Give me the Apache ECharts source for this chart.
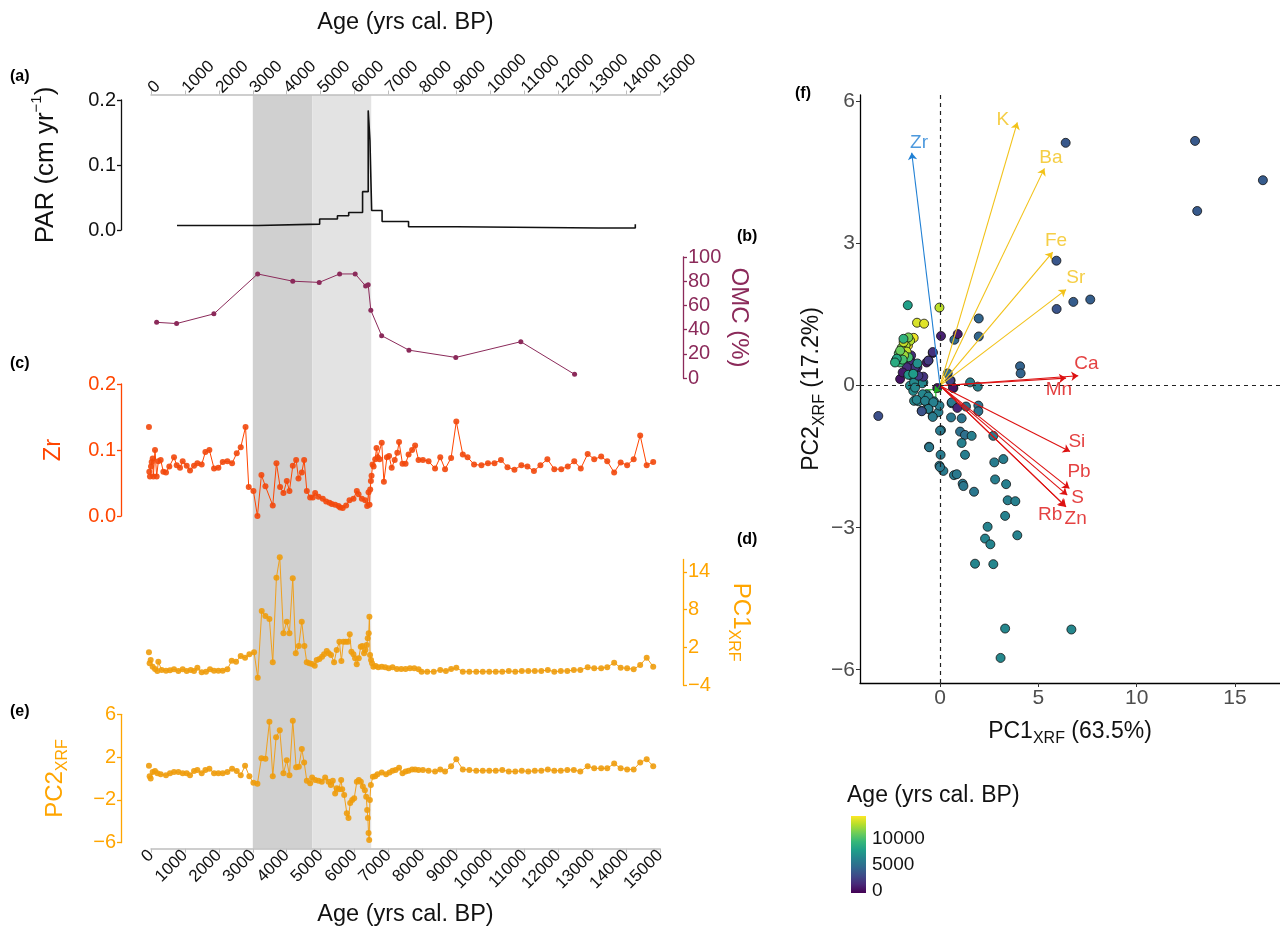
<!DOCTYPE html>
<html>
<head>
<meta charset="utf-8">
<title>Core record and XRF PCA</title>
<script src="https://cdn.jsdelivr.net/npm/echarts@6/dist/echarts.min.js"></script>
<style>
  html, body { margin: 0; padding: 0; background: #fff; }
  #chart { width: 1280px; height: 938px; }
</style>
</head>
<body>
<div id="chart"></div>
<script>
const FONT = '"Liberation Sans", Arial, Helvetica, sans-serif';
const ORANGE = "#FFA500";
const ORANGERED = "#FF4500";
const MAROON = "#8B2A5A";

// shaded periods (yrs cal. BP)
const shadeBands = [[3000, 4750], [4750, 6490]];
const shadeColors = ["#D0D0D0", "#E3E3E3"];

// (a) PAR, cm/yr, step line [age, value]
const parData = [[767, 0.007], [3156, 0.009], [4970, 0.017], [5494, 0.022], [5826, 0.027], [6235, 0.059],
  [6401, 0.184], [6452, 0.138], [6503, 0.030], [6810, 0.013], [7590, 0.005], [9020, 0.003], [13186, 0.003], [14272, 0.009]];

// (b) OMC %
const omcData = [[166, 46], [754, 45], [1853, 53], [3143, 86], [4178, 80], [4957, 79], [5558, 86], [6018, 86],
  [6325, 76], [6401, 77], [6478, 56], [6797, 35], [7602, 23], [8982, 17], [10899, 30], [12483, 3]];

// (c) Zr
const zrData = [[-60, 0.135], [-50, 0.067], [-30, 0.06], [0, 0.075], [20, 0.082], [50, 0.087], [70, 0.06], [118, 0.1],
  [167, 0.06], [216, 0.083], [285, 0.085], [364, 0.067], [442, 0.066], [540, 0.075], [678, 0.089], [757, 0.077],
  [855, 0.073], [934, 0.083], [1052, 0.076], [1150, 0.069], [1268, 0.076], [1366, 0.08], [1494, 0.078], [1603, 0.097],
  [1720, 0.1], [1858, 0.072], [1986, 0.073], [2114, 0.082], [2251, 0.083], [2389, 0.08], [2527, 0.095], [2644, 0.104],
  [2786, 0.135], [2880, 0.044], [3018, 0.038], [3136, 0.0], [3254, 0.062], [3372, 0.045], [3588, 0.016], [3697, 0.08],
  [3805, 0.044], [3903, 0.035], [4002, 0.053], [4080, 0.038], [4179, 0.076], [4277, 0.085], [4346, 0.057], [4444, 0.066],
  [4513, 0.085], [4592, 0.038], [4690, 0.028], [4769, 0.028], [4837, 0.035], [4936, 0.029], [5063, 0.026], [5162, 0.022],
  [5260, 0.02], [5329, 0.018], [5427, 0.017], [5525, 0.015], [5574, 0.013], [5650, 0.012], [5750, 0.016], [5850, 0.024],
  [5968, 0.026], [6066, 0.038], [6116, 0.033], [6214, 0.026], [6312, 0.024], [6370, 0.015], [6411, 0.036], [6440, 0.017],
  [6460, 0.04], [6480, 0.053], [6500, 0.061], [6529, 0.078], [6560, 0.075], [6608, 0.086], [6646, 0.103], [6680, 0.089],
  [6735, 0.086], [6800, 0.111], [6863, 0.052], [6952, 0.089], [7016, 0.091], [7093, 0.073], [7182, 0.085], [7259, 0.096],
  [7310, 0.112], [7412, 0.079], [7502, 0.079], [7591, 0.093], [7694, 0.1], [7783, 0.107], [7885, 0.085], [8013, 0.085],
  [8179, 0.083], [8371, 0.072], [8524, 0.089], [8665, 0.071], [8844, 0.088], [8997, 0.143], [9189, 0.093], [9329, 0.089],
  [9521, 0.078], [9738, 0.077], [9930, 0.08], [10122, 0.08], [10313, 0.085], [10505, 0.074], [10710, 0.07], [10914, 0.077],
  [11093, 0.075], [11285, 0.068], [11476, 0.077], [11681, 0.086], [11885, 0.071], [12090, 0.071], [12282, 0.075],
  [12473, 0.083], [12665, 0.072], [12869, 0.094], [13061, 0.086], [13266, 0.09], [13445, 0.083], [13649, 0.066],
  [13841, 0.081], [14032, 0.077], [14224, 0.086], [14416, 0.122], [14608, 0.077], [14800, 0.082]];

// (d) PC1 XRF scores
const pc1Data = [[-60, 1.21], [-40, -0.54], [-10, -0.02], [49, -1.09], [118, -1.45], [187, -1.77], [216, -0.29],
  [314, -1.61], [442, -1.72], [560, -1.66], [678, -1.5], [806, -1.77], [934, -1.5], [1052, -1.77], [1170, -1.61],
  [1268, -1.77], [1366, -1.25], [1494, -1.98], [1621, -1.88], [1739, -1.5], [1857, -1.72], [1985, -1.72], [2113, -1.72],
  [2250, -1.5], [2378, -0.13], [2506, -0.29], [2644, 0.62], [2772, 0.35], [2899, 0.89], [3037, 1.21], [3146, -2.84],
  [3263, 7.78], [3371, 6.99], [3489, 6.51], [3588, -0.39], [3696, 13.09], [3795, 16.33], [3903, 4.23], [4001, 6.08],
  [4079, 4.23], [4178, 12.99], [4266, 1.05], [4354, 2.21], [4443, 6.08], [4521, 2.21], [4590, -0.39], [4668, -0.54],
  [4747, -0.66], [4825, -0.93], [4884, -0.02], [4963, 0.14], [5041, 0.51], [5100, 0.89], [5179, 1.41], [5238, 1.05],
  [5306, 0.78], [5395, -0.39], [5473, 1.57], [5552, 2.89], [5611, -0.18], [5670, 2.89], [5739, 2.89], [5808, 2.89],
  [5857, 4.07], [5906, 1.3], [5965, 0.89], [6014, 0.25], [6063, -0.7], [6122, 0.25], [6181, 2.1], [6230, 2.21],
  [6279, 1.05], [6318, 1.57], [6357, 2.37], [6387, 3.44], [6416, 4.23], [6436, 6.88], [6455, 0.78], [6485, -0.02],
  [6514, -0.54], [6554, -1.09], [6620, -0.97], [6697, -1.18], [6800, -1.09], [6901, -1.18], [7004, -1.34], [7118, -1.18],
  [7246, -1.45], [7374, -1.45], [7502, -1.45], [7630, -1.34], [7757, -1.34], [7885, -1.5], [7975, -1.88], [8141, -1.88],
  [8333, -1.88], [8524, -1.61], [8690, -1.77], [8844, -1.45], [8997, -1.25], [9189, -1.88], [9381, -1.88], [9585, -1.88],
  [9777, -1.88], [9968, -1.88], [10160, -1.88], [10352, -1.88], [10543, -1.77], [10735, -1.88], [10927, -1.77],
  [11119, -1.77], [11310, -1.77], [11502, -1.77], [11694, -1.61], [11885, -1.88], [12077, -1.77], [12269, -1.77],
  [12461, -1.61], [12652, -1.61], [12869, -1.18], [13061, -1.34], [13266, -1.34], [13445, -1.18], [13649, -0.45],
  [13841, -1.25], [14032, -1.34], [14224, -1.5], [14416, -0.82], [14608, 0.35], [14800, -1.09]];

// (e) PC2 XRF scores
const pc2Data = [[-60, 1.2], [-40, 0.2], [-10, 0.0], [49, 0.6], [118, 0.7], [187, 0.5], [285, 0.4], [442, 0.3],
  [560, 0.5], [678, 0.6], [806, 0.6], [934, 0.5], [1052, 0.5], [1150, 0.3], [1268, 0.7], [1366, 0.8], [1494, 0.5],
  [1603, 0.8], [1720, 0.9], [1858, 0.5], [1986, 0.5], [2114, 0.5], [2251, 0.6], [2389, 0.9], [2527, 0.7], [2644, 0.3],
  [2772, 1.2], [2899, 0.2], [3018, -0.4], [3136, -0.5], [3254, 1.9], [3372, 1.85], [3490, 5.3], [3588, 0.2], [3687, 3.85],
  [3795, 4.5], [3903, 0.5], [4001, 1.7], [4080, 0.3], [4179, 5.4], [4277, 1.05], [4356, 1.1], [4444, 2.75], [4513, 1.5],
  [4592, -0.2], [4690, -0.45], [4749, 0.1], [4838, -0.15], [4936, -0.2], [5034, -0.3], [5132, 0.1], [5230, -0.3],
  [5299, -0.6], [5358, -0.2], [5427, -1.4], [5476, -0.9], [5535, -1.0], [5604, -0.15], [5634, -1.0], [5693, -1.55],
  [5771, -3.25], [5820, -3.7], [5870, -2.3], [5929, -2.0], [5988, -1.85], [6066, -0.3], [6125, -0.15], [6184, -0.3],
  [6243, -0.75], [6302, -1.1], [6342, -1.7], [6371, -2.95], [6391, -3.7], [6411, -5.1], [6430, -5.75], [6450, -2.0],
  [6480, -0.6], [6539, 0.17], [6608, 0.2], [6676, 0.4], [6800, 0.55], [6927, 0.4], [7029, 0.55], [7118, 0.73],
  [7208, 0.8], [7310, 1.0], [7412, 0.5], [7502, 0.65], [7591, 0.73], [7694, 0.85], [7783, 0.85], [7885, 0.8], [8013, 0.8],
  [8179, 0.73], [8371, 0.65], [8524, 0.85], [8665, 0.65], [8844, 1.15], [8997, 1.8], [9189, 0.85], [9381, 0.8],
  [9585, 0.73], [9777, 0.73], [9968, 0.73], [10160, 0.73], [10352, 0.8], [10543, 0.65], [10735, 0.65], [10927, 0.73],
  [11119, 0.65], [11310, 0.73], [11502, 0.73], [11694, 0.85], [11885, 0.73], [12077, 0.73], [12269, 0.8], [12461, 0.8],
  [12652, 0.65], [12869, 1.15], [13061, 0.95], [13266, 0.95], [13445, 0.95], [13649, 1.4], [13841, 0.95], [14032, 0.85],
  [14224, 0.85], [14416, 1.5], [14608, 1.8], [14800, 1.15]];

// (f) biplot: sample scores [PC1, PC2, age]
const scorePoints = [
  [6.39, 5.13, 3600], [12.97, 5.17, 3650], [16.42, 4.34, 3800], [13.08, 3.69, 3700], [5.92, 2.64, 3500],
  [6.78, 1.77, 3900], [7.64, 1.82, 3950], [5.93, 1.62, 3400], [1.97, 1.42, 4300], [1.97, 1.04, 4400],
  [0.73, 0.97, 4500], [4.07, 0.41, 4200], [4.1, 0.26, 4250], [0.39, 0.26, 4600], [0.54, 0.11, 4500],
  [0.68, -0.05, 4650], [-3.14, -0.64, 3100], [-0.93, -0.54, 3300],
  [0.9, 1.09, 800], [0.05, 1.05, 900], [-0.37, 0.69, 600], [-0.59, 0.53, 700], [-0.68, 0.49, 500],
  [-1.15, 0.39, 1200], [-2.03, 0.14, 300], [-1.47, 0.64, 1500], [-1.47, 0.51, 1000], [-0.85, 0.19, 1800],
  [0.88, -0.47, 1100], [0.66, -0.04, 400], [-1.69, 0.62, 1300], [-1.52, 0.49, 1600], [-1.27, 0.39, 2000],
  [-1.69, 0.39, 1400], [-1.9, 0.28, 700], [-1.1, 0.21, 2200], [-0.14, -0.05, 200], [0.51, 0.11, 2500],
  [-0.03, 1.65, 12800], [-1.17, 1.33, 13400], [-0.81, 1.31, 13600], [-1.34, 1.01, 13900], [-1.63, 0.85, 14200],
  [-1.83, 0.76, 13200], [-1.52, 0.95, 12600], [-1.75, 0.85, 12500], [-1.95, 0.8, 11500], [-1.7, 0.72, 12900],
  [-2.1, 0.68, 10200], [-1.85, 0.92, 13000], [-1.6, 0.6, 9800],
  [-1.61, 1.02, 11200], [-2.03, 0.56, 10600], [-1.9, 0.66, 11800], [-1.83, 0.64, 12100], [-2.03, 0.74, 10900],
  [-1.64, 1.7, 7800], [-2.03, 0.49, 9500], [-1.9, 0.55, 9800],
  [-1.86, 0.99, 9000], [-2.25, 0.53, 7100], [-1.61, 0.23, 7300], [-1.36, 0.25, 7600], [-2.2, 0.57, 8200],
  [-2.29, 0.49, 8600], [-1.15, 0.47, 7000], [-1.44, 0.21, 6900],
  [1.53, 0.07, 6000], [1.92, -0.02, 6100], [-1.53, 0.0, 6700], [-1.36, -0.11, 6600], [-0.85, 0.07, 6500],
  [-1.32, -0.32, 6400], [-1.1, -0.33, 6300], [-0.68, -0.35, 6200], [-0.59, -0.49, 6150], [-0.37, -0.64, 6050],
  [-0.68, -0.19, 6250], [-0.31, -0.33, 5900], [-0.08, -0.56, 5800], [-0.03, -0.42, 5850], [0.05, -0.94, 5950],
  [-0.56, -1.29, 5700], [-0.03, -1.69, 5750], [0.17, -1.8, 5650], [0.71, -1.89, 5600], [0.85, -1.87, 5550],
  [1.15, -2.07, 5500], [1.19, -2.12, 5450], [1.73, -2.24, 5400], [0.56, -0.67, 5350], [0.59, -0.37, 5300],
  [1.1, -0.69, 5250], [1.32, -0.44, 5200], [1.95, -0.42, 5150], [1.95, -0.54, 5100], [1.02, -0.97, 5050],
  [1.27, -1.04, 5000], [1.61, -1.06, 5900], [1.1, -1.21, 6000], [1.27, -1.46, 5800], [2.71, -1.06, 5700],
  [2.76, -1.62, 5750], [3.22, -1.55, 5800], [2.8, -1.98, 5850], [3.36, -2.08, 5900], [3.44, -2.42, 5950],
  [3.83, -2.44, 6000], [3.31, -2.75, 6050], [3.93, -3.16, 6100], [2.42, -2.98, 6150], [2.29, -3.23, 6200],
  [2.56, -3.35, 6250], [1.78, -3.76, 6300], [2.71, -3.77, 6350], [3.31, -5.13, 6400], [6.68, -5.15, 6420],
  [3.08, -5.75, 6440], [0.6, -0.35, 5600], [0.03, -1.46, 5650], [-0.91, 0.05, 6450], [-1.32, 0.07, 6550],
  [-1.27, -0.04, 6480], [-0.88, -0.18, 6350], [-0.59, -0.23, 6300], [-1.19, -0.3, 6200], [-0.76, -0.32, 6100],
  [-0.34, -0.35, 6000], [-0.59, -0.49, 5900], [-0.93, -0.53, 5800], [-0.37, -0.66, 5700], [0.0, -0.95, 5600],
  [-0.55, -1.3, 5500], [0.0, -1.72, 5450], [-0.59, 0.53, 2100], [-0.37, 0.71, 1700]
];

// (f) biplot: variable loadings
const loadNames = ["Zr", "K", "Ba", "Fe", "Sr", "Ca", "Mn", "Si", "Pb", "S", "Rb", "Zn", "Ti"];
const loadPC1 = [-1.44, 3.93, 5.31, 5.73, 6.41, 7.03, 6.41, 6.61, 6.58, 6.47, 6.36, 6.41, -0.3];
const loadPC2 = [4.92, 5.56, 4.59, 2.82, 2.03, 0.21, 0.16, -1.39, -2.17, -2.31, -2.54, -2.56, -0.15];
const loadGroup = ["blue", "gold", "gold", "gold", "gold", "red", "red", "red", "red", "red", "red", "red", "green"];
const loadLabelPC1 = [-1.07, 3.2, 5.64, 5.9, 6.9, 7.45, 6.05, 6.96, 7.07, 7.0, 5.6, 6.9, -0.45];
const loadLabelPC2 = [5.13, 5.61, 4.81, 3.07, 2.27, 0.47, -0.08, -1.19, -1.82, -2.37, -2.73, -2.82, -0.22];

const ageRange = [-400, 14250];
const colorbarTicks = [0, 5000, 10000];

const groupColor = { blue: "#2080D4", gold: "#F2C218", red: "#DD1111", green: "#22B022" };
const viridis = ["#440154", "#482878", "#3E4A89", "#31688E", "#26828E", "#1F9E89", "#35B779", "#6DCD59", "#B4DE2C", "#FDE725"];

// draw order in the biplot: mid-Holocene teal first, old yellow-green last
const drawRank = (age) => (age >= 5000 && age < 7000 ? 0 : age >= 3000 && age < 5000 ? 1 : age < 3000 ? 2 : 3);
const scoreDrawn = scorePoints.slice().sort((a, b) => drawRank(a[2]) - drawRank(b[2]));

const chart = echarts.init(document.getElementById("chart"), null, { renderer: "canvas" });

const minus = (v) => String(v).replace("-", "\u2212");
const plain = (v) => String(v);

function leftY(grid, min, max, interval, color, name, gap, extra) {
  return Object.assign({
    gridIndex: grid, type: "value", position: "left", offset: 30, min, max, interval,
    axisLine: { show: true, onZero: false, lineStyle: { color, width: 1.3 } },
    axisTick: { show: true, length: 4, lineStyle: { color, width: 1.3 } },
    axisLabel: { color, fontSize: 20, fontFamily: FONT, margin: 5, formatter: minus },
    splitLine: { show: false },
    name, nameLocation: "middle", nameGap: gap, nameRotate: 90,
    nameTextStyle: { color, fontSize: 24, fontFamily: FONT },
  }, extra || {});
}
function rightY(grid, min, max, interval, color, name, gap, extra) {
  return Object.assign(leftY(grid, min, max, interval, color, name, gap), { position: "right", offset: 23, nameRotate: -90 }, extra || {});
}
function hiddenX(grid) {
  return { gridIndex: grid, type: "value", min: 0, max: 15000, show: false };
}

// rich text: a = normal, s = subscript, p = superscript
const subRich = (color, size) => ({
  a: { fontSize: size, color, fontFamily: FONT, lineHeight: size + 8 },
  s: { fontSize: Math.round(size * 0.68), color, fontFamily: FONT, lineHeight: 12, verticalAlign: "bottom" },
  p: { fontSize: 15, color, fontFamily: FONT, lineHeight: 10, verticalAlign: "top" },
});

const panelLabel = (text, x, y) => ({
  type: "text", left: x, top: y,
  style: { text, fontSize: 16, fontWeight: "bold", fill: "#000", fontFamily: FONT },
});

// note: ECharts negates axisLabel.rotate on a top axis, hence -45 there
const ageAxis = (grid, position, offset, gap, rotate) => ({
  gridIndex: grid, type: "value", position, offset, min: 0, max: 15000, interval: 1000,
  axisLine: { onZero: false, lineStyle: { color: "#BEBEBE", width: 1.5 } },
  axisTick: { length: 4, lineStyle: { color: "#BEBEBE" } },
  axisLabel: { rotate, color: "#111", fontSize: 17, fontFamily: FONT, margin: 4, formatter: plain },
  splitLine: { show: false },
  name: "Age (yrs cal. BP)", nameLocation: "middle", nameGap: gap,
  nameTextStyle: { fontSize: 23.5, color: "#111", fontFamily: FONT },
});

chart.setOption({
  animation: false,
  backgroundColor: "#fff",
  textStyle: { fontFamily: FONT },
  grid: [
    { left: 151, width: 509, top: 100, height: 130 },
    { left: 151, width: 509, top: 257, height: 121 },
    { left: 151, width: 509, top: 384, height: 132 },
    { left: 151, width: 509, top: 559.4, height: 125.6 },
    { left: 151, width: 509, top: 714.3, height: 128.4 },
    { left: 151, width: 509, top: 95, height: 753.5 },
    { left: 860, width: 420, top: 95, height: 588 },
    { left: 851, width: 15, top: 816, height: 77 },
  ],
  xAxis: [
    ageAxis(0, "top", 5.5, 60, -45),
    hiddenX(1), hiddenX(2), hiddenX(3),
    ageAxis(4, "bottom", 6, 54, 45),
    hiddenX(5),
    {
      gridIndex: 6, type: "value", min: -4.07, max: 17.29,
      axisLine: { onZero: false, lineStyle: { color: "#000", width: 1.3 } },
      axisTick: { show: true, customValues: [0, 5, 10, 15], length: 4, lineStyle: { color: "#333" } },
      axisLabel: { customValues: [0, 5, 10, 15], color: "#4D4D4D", fontSize: 21, fontFamily: FONT, margin: 5 },
      splitLine: { show: false },
      name: "{a|PC1}{s|XRF}{a| (63.5%)}", nameLocation: "middle", nameGap: 33,
      nameTextStyle: { rich: subRich("#111", 23) },
    },
    { gridIndex: 7, type: "value", min: 0, max: 1, show: false },
  ],
  yAxis: [
    leftY(0, 0, 0.2, 0.1, "#111", "{a|PAR (cm yr}{p|\u22121}{a|)}", 58, {
      axisLabel: { color: "#111", fontSize: 20, fontFamily: FONT, margin: 5, formatter: (v) => v.toFixed(1) },
      nameTextStyle: { rich: subRich("#111", 26) },
    }),
    rightY(1, 0, 100, 20, MAROON, "OMC (%)", 44),
    leftY(2, 0, 0.2, 0.1, ORANGERED, "Zr", 56, {
      axisLabel: { color: ORANGERED, fontSize: 20, fontFamily: FONT, margin: 5, formatter: (v) => v.toFixed(1) },
    }),
    rightY(3, -4, 16, 6, ORANGE, "{a|PC1}{s|XRF}", 42, {
      axisTick: { show: true, customValues: [-4, 2, 8, 14], length: 4, lineStyle: { color: ORANGE, width: 1.3 } },
      axisLabel: { customValues: [-4, 2, 8, 14], color: ORANGE, fontSize: 20, fontFamily: FONT, margin: 5, formatter: minus },
      nameTextStyle: { rich: subRich(ORANGE, 24) },
    }),
    leftY(4, -6, 6, 4, ORANGE, "{a|PC2}{s|XRF}", 50, {
      nameTextStyle: { rich: subRich(ORANGE, 24) },
    }),
    { gridIndex: 5, type: "value", min: 0, max: 1, show: false },
    {
      gridIndex: 6, type: "value", min: -6.28, max: 6.14,
      axisLine: { onZero: false, lineStyle: { color: "#000", width: 1.3 } },
      axisTick: { show: true, customValues: [-6, -3, 0, 3, 6], length: 4, lineStyle: { color: "#333" } },
      axisLabel: { customValues: [-6, -3, 0, 3, 6], color: "#4D4D4D", fontSize: 21, fontFamily: FONT, margin: 5, formatter: minus },
      splitLine: { show: false },
      name: "{a|PC2}{s|XRF}{a| (17.2%)}", nameLocation: "middle", nameGap: 30, nameRotate: 90,
      nameTextStyle: { rich: subRich("#111", 23) },
    },
    {
      gridIndex: 7, type: "value", min: ageRange[0], max: ageRange[1], position: "right",
      axisLine: { show: false, onZero: false },
      axisTick: { show: true, inside: true, customValues: colorbarTicks, length: 3, lineStyle: { color: "#fff" } },
      axisLabel: { customValues: colorbarTicks, color: "#111", fontSize: 19, fontFamily: FONT, margin: 6, formatter: plain },
      splitLine: { show: false },
    },
  ],
  visualMap: [{
    show: false, type: "continuous", seriesIndex: 8, dimension: 2,
    min: ageRange[0], max: ageRange[1], inRange: { color: viridis },
  }],
  series: [
    {
      type: "custom", xAxisIndex: 5, yAxisIndex: 5, z: 0, silent: true,
      data: shadeBands,
      renderItem: (params, api) => {
        const p0 = api.coord([api.value(0), 1]);
        const p1 = api.coord([api.value(1), 0]);
        return {
          type: "rect",
          shape: { x: p0[0], y: p0[1], width: p1[0] - p0[0], height: p1[1] - p0[1] },
          style: { fill: shadeColors[params.dataIndex] },
        };
      },
    },
    {
      type: "line", xAxisIndex: 0, yAxisIndex: 0, data: parData, step: "end", showSymbol: false, clip: false,
      lineStyle: { color: "#111", width: 1.6 },
    },
    {
      type: "line", xAxisIndex: 1, yAxisIndex: 1, data: omcData, symbol: "circle", symbolSize: 5, clip: false,
      lineStyle: { color: MAROON, width: 1 }, itemStyle: { color: MAROON },
    },
    {
      type: "line", xAxisIndex: 2, yAxisIndex: 2, data: zrData, symbol: "circle", symbolSize: 6, clip: false,
      lineStyle: { color: ORANGERED, width: 1 }, itemStyle: { color: "#F2480C", opacity: 0.9 },
    },
    {
      type: "line", xAxisIndex: 3, yAxisIndex: 3, data: pc1Data, symbol: "circle", symbolSize: 6, clip: false,
      lineStyle: { color: "#EFA01E", width: 1 }, itemStyle: { color: "#EE9C0C", opacity: 0.9 },
    },
    {
      type: "line", xAxisIndex: 4, yAxisIndex: 4, data: pc2Data, symbol: "circle", symbolSize: 6, clip: false,
      lineStyle: { color: "#EFA01E", width: 1 }, itemStyle: { color: "#EE9C0C", opacity: 0.9 },
    },
    {
      type: "scatter", xAxisIndex: 6, yAxisIndex: 6, z: 1, silent: true, symbolSize: 1,
      itemStyle: { color: "transparent" },
      label: { show: true, position: "inside", fontSize: 16, fontFamily: FONT, formatter: (p) => p.name },
      data: loadNames.map((n, i) => ({
        name: n, value: [loadLabelPC1[i], loadLabelPC2[i]],
        label: { color: groupColor[loadGroup[i]] },
      })).filter((d) => d.name === "Ti"),
      markLine: {
        silent: true, symbol: "none", label: { show: false },
        lineStyle: { color: "#222", type: [4, 4], width: 1.2 },
        data: [{ xAxis: 0 }, { yAxis: 0 }],
      },
    },
    {
      type: "lines", coordinateSystem: "cartesian2d", xAxisIndex: 6, yAxisIndex: 6, z: 4, silent: true,
      symbol: ["none", "arrow"], symbolSize: 7,
      data: loadNames.map((n, i) => ({
        coords: [[0, 0], [loadPC1[i], loadPC2[i]]],
        lineStyle: { color: groupColor[loadGroup[i]], width: 1.1, opacity: 1 },
      })),
    },
    {
      type: "scatter", xAxisIndex: 6, yAxisIndex: 6, z: 3, symbolSize: 9, clip: false,
      itemStyle: { borderColor: "#111", borderWidth: 0.8, opacity: 1 },
      data: scoreDrawn,
    },
    {
      type: "scatter", xAxisIndex: 6, yAxisIndex: 6, z: 5, silent: true, symbolSize: 1,
      itemStyle: { color: "transparent" },
      label: { show: true, position: "inside", fontSize: 19, fontFamily: FONT, formatter: (p) => p.name },
      data: loadNames.map((n, i) => ({
        name: n, value: [loadLabelPC1[i], loadLabelPC2[i]],
        label: { color: groupColor[loadGroup[i]] },
      })).filter((d) => d.name !== "Ti"),
    },
    {
      type: "custom", xAxisIndex: 7, yAxisIndex: 7, silent: true,
      data: [ageRange],
      renderItem: (params, api) => {
        const lo = api.coord([0, api.value(0)]);
        const hi = api.coord([1, api.value(1)]);
        return {
          type: "rect",
          shape: { x: lo[0], y: hi[1], width: hi[0] - lo[0], height: lo[1] - hi[1] },
          style: {
            fill: new echarts.graphic.LinearGradient(0, 1, 0, 0,
              viridis.map((c, i) => ({ offset: i / (viridis.length - 1), color: c }))),
          },
        };
      },
    },
  ],
  graphic: [
    panelLabel("(a)", 10, 69),
    panelLabel("(b)", 737, 229),
    panelLabel("(c)", 10, 356),
    panelLabel("(d)", 737, 532),
    panelLabel("(e)", 10, 704),
    panelLabel("(f)", 795, 86),
    {
      type: "text", left: 847, top: 784,
      style: { text: "Age (yrs cal. BP)", fontSize: 23, fill: "#111", fontFamily: FONT },
    },
  ],
});

window.addEventListener("resize", () => chart.resize());
</script>
</body>
</html>
